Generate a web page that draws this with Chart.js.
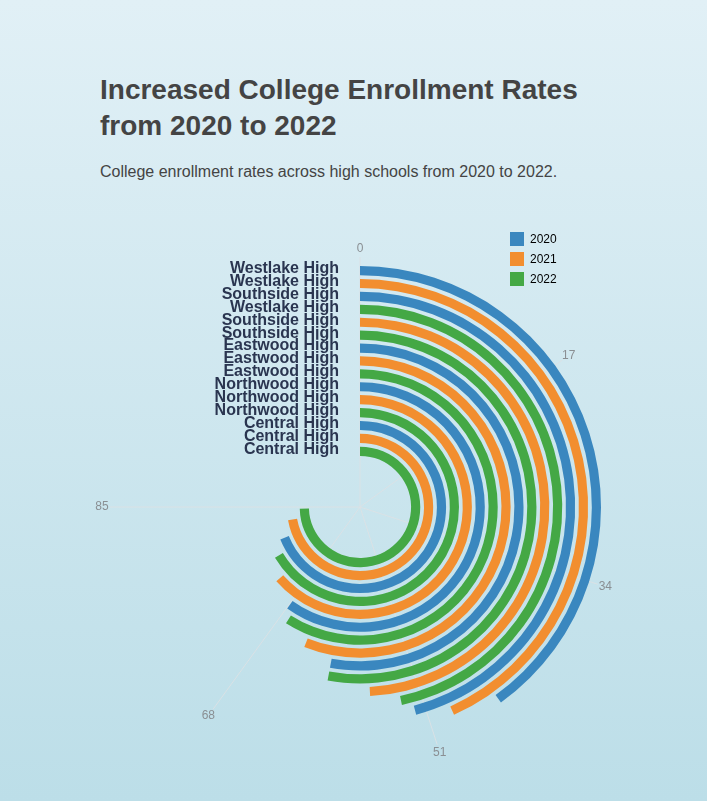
<!DOCTYPE html>
<html>
<head>
<meta charset="utf-8">
<script src="https://cdn.jsdelivr.net/npm/chart.js@4"></script>
<style>
  body { margin: 0; width: 707px; height: 801px; overflow: hidden;
         background: linear-gradient(#e1f0f6, #bcdee8); font-family: "Liberation Sans", Arial, sans-serif; position: relative; }
  h1 { position: absolute; left: 100px; top: 72px; margin: 0; font-size: 28px; line-height: 36px; color: #444; font-weight: bold; }
  .sub { position: absolute; left: 100px; top: 163px; font-size: 16px; color: #444; }
  .legend { position: absolute; left: 510px; top: 229px; font-size: 12px; color: #000; }
  .legend div { height: 20px; display: flex; align-items: center; }
  .legend span { display: inline-block; width: 14px; height: 14px; margin-right: 6px; }
  canvas { position: absolute; left: 0; top: 0; }
</style>
</head>
<body>
<h1>Increased College Enrollment Rates<br>from 2020 to 2022</h1>
<div class="sub">College enrollment rates across high schools from 2020 to 2022.</div>
<canvas id="myChart" width="707" height="801"></canvas>
<div class="legend">
  <div><span style="background:#3a87bf"></span>2020</div>
  <div><span style="background:#f28e2f"></span>2021</div>
  <div><span style="background:#44a845"></span>2022</div>
</div>
<script>
// rings listed from outermost to innermost
const schools = ["Westlake High", "Westlake High", "Southside High", "Westlake High", "Southside High",
  "Southside High", "Eastwood High", "Eastwood High", "Eastwood High", "Northwood High",
  "Northwood High", "Northwood High", "Central High", "Central High", "Central High"];
const years = ["2020", "2021", "2020", "2022", "2021", "2022", "2020", "2021", "2022",
  "2020", "2021", "2022", "2020", "2021", "2022"];
const rates = [45.4, 49, 51.9, 52.9, 55.7, 60, 60, 63.5, 66.9, 67.9, 71.9, 75.3, 78, 81.7, 84.5];
const angleTicks = [0, 17, 34, 51, 68, 85];
const fullCircle = 85 * 4 / 3; // 85 sits at 270 degrees

const yearColors = { "2020": "#3a87bf", "2021": "#f28e2f", "2022": "#44a845" };

let datasets = [];
rates.forEach((v, i) => {
    datasets.push({ data: [v, fullCircle - v], backgroundColor: [yearColors[years[i]], "rgba(0,0,0,0)"],
        borderWidth: 0, weight: 9, isBar: true, label: schools[i] });
    if (i < rates.length - 1) {
        datasets.push({ data: [fullCircle], backgroundColor: ["rgba(0,0,0,0)"], borderWidth: 0, weight: 3.67 });
    }
});

const toRad = v => (v / fullCircle) * Math.PI * 2 - Math.PI / 2;

const polarDecor = {
    id: "polarDecor",
    beforeDatasetsDraw(chart) {
        const meta = chart.getDatasetMeta(0).data[0];
        const cx = meta.x, cy = meta.y, R = meta.outerRadius;
        const c = chart.ctx;
        c.save();
        c.strokeStyle = "rgba(220,225,228,0.9)";
        c.lineWidth = 1;
        c.fillStyle = "#8a8f93";
        c.font = "12px 'Liberation Sans', Arial";
        c.textAlign = "center";
        c.textBaseline = "middle";
        angleTicks.forEach(t => {
            const a = toRad(t);
            c.beginPath();
            c.moveTo(cx, cy);
            c.lineTo(cx + Math.cos(a) * (R + 9), cy + Math.sin(a) * (R + 9));
            c.stroke();
            c.fillText(String(t), cx + Math.cos(a) * (R + 17), cy + Math.sin(a) * (R + 17));
        });
        c.restore();
    },
    afterDatasetsDraw(chart) {
        const c = chart.ctx;
        c.save();
        c.fillStyle = "#2a3550";
        c.font = "bold 16px 'Liberation Sans', Arial";
        c.textAlign = "right";
        c.textBaseline = "middle";
        chart.data.datasets.forEach((ds, i) => {
            if (!ds.isBar) return;
            const arc = chart.getDatasetMeta(i).data[0];
            const r = (arc.innerRadius + arc.outerRadius) / 2;
            c.fillText(ds.label, arc.x - 21, arc.y - r - 2);
        });
        c.restore();
    }
};

let ctx = document.getElementById("myChart").getContext("2d");
new Chart(ctx, {
    type: "doughnut",
    data: { labels: ["value", "rest"], datasets: datasets },
    options: {
        responsive: false,
        animation: false,
        cutout: "21.2%",
        rotation: 0,
        layout: { padding: { left: 119, right: 106, top: 266, bottom: 53 } },
        plugins: { legend: { display: false }, tooltip: { enabled: false } },
        events: []
    },
    plugins: [polarDecor]
});
</script>
</body>
</html>
